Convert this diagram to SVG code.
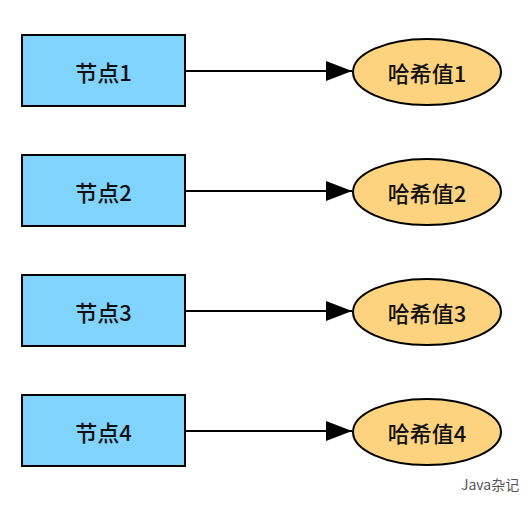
<svg xmlns="http://www.w3.org/2000/svg" width="528" height="508" viewBox="0 0 528 508">
<style>
.node rect{fill:#80d4fd;stroke:#000;stroke-width:2}
.node ellipse{fill:#fed37f;stroke:#000;stroke-width:2}
.lbl{font-family:"Noto Sans CJK SC","Liberation Sans",sans-serif;font-size:22px;font-weight:500;fill:#111;text-anchor:middle;dominant-baseline:central}
.edge{stroke:#000;stroke-width:2;fill:none;marker-end:url(#ah)}
.wm{font-family:"Noto Sans CJK SC","Liberation Sans",sans-serif;font-size:14px;fill:#555}
</style>
<defs>
<marker id="ah" markerWidth="26" markerHeight="20" refX="26" refY="10" orient="auto" markerUnits="userSpaceOnUse">
<path d="M0,0 L26,10 L0,20 Z" fill="#000"/>
</marker>
</defs>
<rect width="528" height="508" fill="#fff"/>
<g id="connectors">
<line class="edge" x1="186" y1="71" x2="352" y2="71"/>
<line class="edge" x1="186" y1="191" x2="352" y2="191"/>
<line class="edge" x1="186" y1="311" x2="352" y2="311"/>
<line class="edge" x1="186" y1="431" x2="352" y2="431"/>
</g>
<g id="node1" class="node"><rect x="22" y="35" width="163" height="71"/><text class="lbl" x="103.5" y="71">节点1</text></g>
<g id="node2" class="node"><rect x="22" y="155" width="163" height="71"/><text class="lbl" x="103.5" y="191">节点2</text></g>
<g id="node3" class="node"><rect x="22" y="275" width="163" height="71"/><text class="lbl" x="103.5" y="311">节点3</text></g>
<g id="node4" class="node"><rect x="22" y="395" width="163" height="71"/><text class="lbl" x="103.5" y="431">节点4</text></g>
<g id="hash1" class="node"><ellipse cx="427" cy="72" rx="74" ry="33"/><text class="lbl" x="427" y="72">哈希值1</text></g>
<g id="hash2" class="node"><ellipse cx="427" cy="192" rx="74" ry="33"/><text class="lbl" x="427" y="192">哈希值2</text></g>
<g id="hash3" class="node"><ellipse cx="427" cy="312" rx="74" ry="33"/><text class="lbl" x="427" y="312">哈希值3</text></g>
<g id="hash4" class="node"><ellipse cx="427" cy="432" rx="74" ry="33"/><text class="lbl" x="427" y="432">哈希值4</text></g>
<text class="wm" x="461" y="490">Java杂记</text>
</svg>
